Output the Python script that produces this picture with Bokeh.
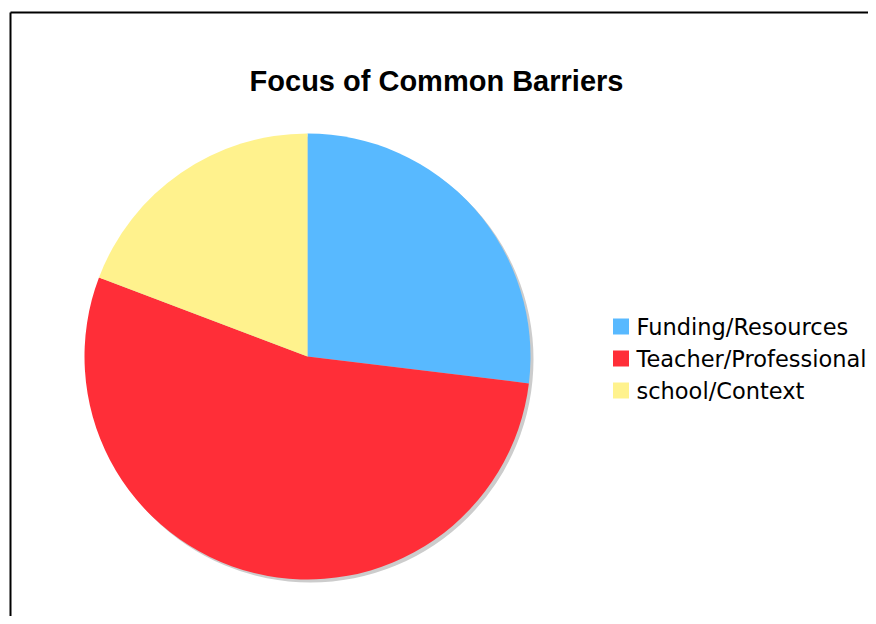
import numpy as np
from bokeh.plotting import figure
from bokeh.models import Range1d, ColumnDataSource
from bokeh.core.properties import value
from bokeh.embed import file_html
from bokeh.resources import INLINE

# ---- data ----
categories = ["Funding/Resources", "Teacher/Professional", "school/Context"]
counts = [7, 14, 5]
colors = ["#58B9FF", "#FF2E38", "#FFF28D"]
title_text = "Focus of Common Barriers"

W, H = 868, 616
p = figure(width=W, height=H, output_backend="svg", toolbar_location=None,
           x_range=Range1d(0, W), y_range=Range1d(0, H), min_border=0)
p.axis.visible = False
p.grid.visible = False
p.outline_line_color = None
p.background_fill_color = "white"
p.border_fill_color = "white"

def fy(page_y):
    return H - page_y

def fx(page_x):
    return page_x

# frame border (left and top only visible)
p.segment(x0=[fx(10), fx(10)], y0=[fy(12), fy(12)], x1=[fx(10), fx(2000)], y1=[fy(2000), fy(12)],
          line_color="black", line_width=2)

# pie
cx, cy, r = fx(307), fy(356), 223
vals = np.array(counts, dtype=float)
frac = vals / vals.sum()
cum = np.concatenate([[0], np.cumsum(frac)])
start = np.pi / 2 - cum[:-1] * 2 * np.pi
end = np.pi / 2 - cum[1:] * 2 * np.pi
src = ColumnDataSource(dict(start=start, end=end, color=colors, label=categories))

# shadow
p.circle(x=[cx + 3], y=[cy - 3], radius=r, radius_units="screen", fill_color="#CCCCCC",
         line_color=None)
p.wedge(x=cx, y=cy, radius=r, radius_units="screen", start_angle="start", end_angle="end",
        direction="clock", fill_color="color", line_color=None, source=src)

# title
p.text(x=[fx(436)], y=[fy(80)], text=[title_text], text_font=value("Liberation Sans"),
       text_font_style="bold", text_font_size="29px", text_align="center",
       text_baseline="middle", text_color="black")

# legend
idx = np.arange(len(categories))
ly = fy(326) - idx * 32
p.rect(x=fx(620.5), y=ly, width=16, height=16, width_units="screen", height_units="screen",
       fill_color=colors, line_color=None)
p.text(x=fx(636), y=ly, text=categories, text_font=value("DejaVu Sans"),
       text_font_size="22.5px", text_align="left", text_baseline="middle", text_color="black")

open("out.html", "w").write(file_html(p, INLINE))
